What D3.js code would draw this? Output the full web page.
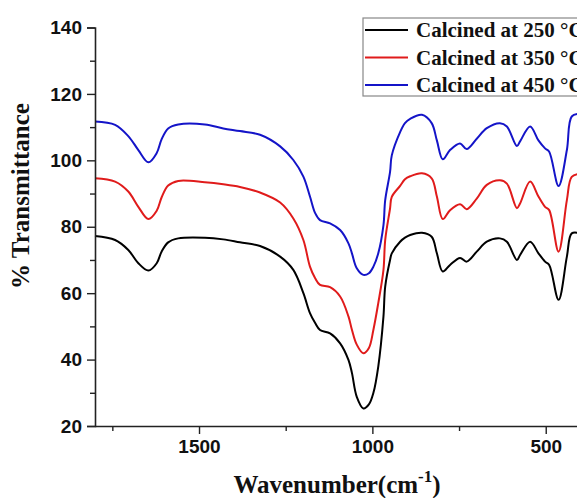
<!DOCTYPE html>
<html><head><meta charset="utf-8">
<script src="https://cdn.jsdelivr.net/npm/d3@7/dist/d3.min.js"></script>
<style>body{margin:0;background:#fff}svg{display:block}</style>
</head><body>
<script>
const wavenumbers = [1800,1742,1704,1675,1646,1622,1608,1589,1560,1483,1430,1382,1324,1266,1228,1199,1180,1165,1151,1122,1093,1069,1059,1045,1026,1010,997,983,968,963,949,944,920,906,891,857,829,814,797,776,747,728,699,670,632,612,583,574,545,521,502,490,463,439,425,401];
const series250 = [77.2,76,73,69,66.8,69,72.5,75.3,76.5,76.7,76.2,75.3,74.2,71,67,60,54,51,48.9,47.9,44.9,39.9,36,28.8,25.3,26.5,30,37.9,53,62,70,72,75.5,76.7,77.5,78.2,77,72,66.5,68.5,70.6,69.5,72.5,75.5,76.5,75.5,70,71.5,75.5,72,69.5,68.5,58,71,78,78];
const series350 = [94.6,93.6,90.6,86,82.3,84.8,88.8,92.4,93.8,93.4,92.8,92,90.3,87.3,82.5,76,68,64.5,62.5,61.8,59,53,49,44.5,41.9,43.5,49,57,67,76,85.5,89,92.3,94.3,95.2,96.1,94.6,89.1,82.3,85,86.8,85.3,88.5,92.6,94,93,85.6,87,93.6,89.1,86,85,72.5,88,95,96];
const series450 = [111.7,110.7,107.3,103.1,99.4,102.2,106.3,109.6,110.8,110.8,109.6,108.8,107.7,104.2,100.1,95.1,89.1,84.1,82,81,79,75,72,67.5,65.5,66,68,72,80.5,88,96.5,101.5,108.5,111.2,112.5,113.7,111.2,106,100.3,103.1,105.1,103.4,106.5,109.7,111.2,110.2,104.3,105.7,110.2,106,103.6,102.6,92.3,103.1,113.2,114];
const seriesNames = ["Calcined at 250 \u00B0C","Calcined at 350 \u00B0C","Calcined at 450 \u00B0C"];
const seriesColors = ["#000000","#e01b1b","#1414c8"];
const xTicks = [1500,1000,500];
const xMinorTicks = [1750,1250,750];
const yTicks = [20,40,60,80,100,120,140];
const yMinorTicks = [30,50,70,90,110,130];

const W = 577, H = 498;
const svg = d3.select("body").append("svg").attr("width", W).attr("height", H);
const x = d3.scaleLinear().domain([1800, 400]).range([95, 580.4]);
const y = d3.scaleLinear().domain([20, 140]).range([426, 27.5]);

const allSeries = [series250, series350, series450];
const line = d3.line().x((d,i)=>x(wavenumbers[i])).y(d=>y(d)).curve(d3.curveCatmullRom.alpha(0.5));
svg.append("g").selectAll("path").data(allSeries).join("path")
  .attr("d", d=>line(d)).attr("fill","none")
  .attr("stroke",(d,i)=>seriesColors[i]).attr("stroke-width",2).attr("stroke-linejoin","round");

// axes
const tickFont = "'Liberation Sans', Arial, sans-serif";
const xAxis = d3.axisBottom(x).tickValues(xTicks).tickSize(8).tickPadding(6).tickFormat(d3.format("d"));
const gx = svg.append("g").attr("transform","translate(0,426)").call(xAxis);
const xMinor = d3.axisBottom(x).tickValues(xMinorTicks).tickSize(5).tickFormat("");
svg.append("g").attr("transform","translate(0,426)").call(xMinor).select(".domain").remove();
const yAxis = d3.axisLeft(y).tickValues(yTicks).tickSize(8).tickPadding(5).tickFormat(d3.format("d"));
const gy = svg.append("g").attr("transform","translate(95,0)").call(yAxis);
const yMinor = d3.axisLeft(y).tickValues(yMinorTicks).tickSize(5).tickFormat("");
svg.append("g").attr("transform","translate(95,0)").call(yMinor).select(".domain").remove();
svg.selectAll(".domain").attr("stroke","#222").attr("stroke-width",1.6);
svg.selectAll(".tick line").attr("stroke","#222").attr("stroke-width",1.4);
svg.selectAll(".tick text").attr("font-family",tickFont).attr("font-weight","bold").attr("font-size",19).attr("fill","#111");
gx.selectAll(".domain").attr("d","M95,0.5H580");

// axis labels
const serif = "'Liberation Serif', 'Times New Roman', serif";
const xl = svg.append("text").attr("x",337).attr("y",493).attr("text-anchor","middle")
  .attr("font-family",serif).attr("font-weight","bold").attr("font-size",25).attr("fill","#111");
xl.append("tspan").text("Wavenumber(cm");
xl.append("tspan").attr("font-size",17).attr("dy",-11).text("-1");
xl.append("tspan").attr("dy",11).text(")");
svg.append("text").attr("transform","translate(29,196) rotate(-90)").attr("text-anchor","middle")
  .attr("font-family",serif).attr("font-weight","bold").attr("font-size",25).attr("fill","#111")
  .text("% Transmittance");

// legend (cut off at the right edge, as in the reference)
const lg = svg.append("g");
lg.append("rect").attr("x",363).attr("y",18).attr("width",240).attr("height",78)
  .attr("fill","#fff").attr("stroke","#888").attr("stroke-width",1.2);
const rows = [30,57.5,85];
seriesNames.forEach((n,i)=>{
  lg.append("line").attr("x1",365).attr("x2",408).attr("y1",rows[i]).attr("y2",rows[i])
    .attr("stroke",seriesColors[i]).attr("stroke-width",2.2);
  lg.append("text").attr("x",416).attr("y",rows[i]+7).attr("font-family",serif).attr("font-weight","bold")
    .attr("font-size",21).attr("fill","#111").text(n);
});
</script>
</body></html>
